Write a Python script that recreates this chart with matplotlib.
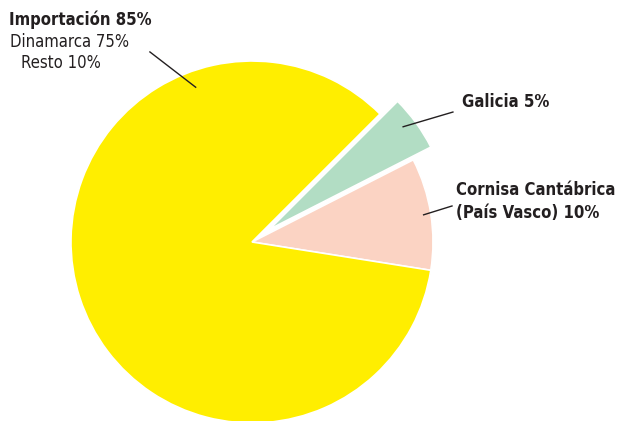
import numpy as np
import matplotlib
matplotlib.use("Agg")
import matplotlib.pyplot as plt

labels = ["Cornisa Cantábrica (País Vasco)", "Galicia", "Importación"]
values = [10, 5, 85]
colors = ["#FBD3C3", "#B2DDC4", "#FFEE00"]
explode = [0, 0.12, 0]
sub_labels = ["Dinamarca 75%", "Resto 10%"]

W, H = 617, 421
fig = plt.figure(figsize=(W / 100, H / 100), dpi=100)
ax = fig.add_axes([0, 0, 1, 1])
R = 181.0
cx, cy = 252, 242

start = -9
wedges, _ = ax.pie(values, colors=colors, explode=explode, startangle=start,
                   counterclock=True, radius=1.0,
                   wedgeprops=dict(edgecolor="white", linewidth=1.2))
ax.set_aspect("auto")
ax.set_xlim(-cx / R, (W - cx) / R)
ax.set_ylim(-(H - cy) / R, cy / R)
ax.axis("off")

tc = "#231F20"
font = dict(family="DejaVu Sans", fontstretch="condensed", color=tc)

def pt(w, r, angle_off=0):
    th = np.deg2rad((w.theta1 + w.theta2) / 2 + angle_off)
    c = w.center
    return c[0] + r * np.cos(th), c[1] + r * np.sin(th)

# Importación leader
w = wedges[2]
th = np.deg2rad(110)
p1 = (w.center[0] + 0.91 * np.cos(th), w.center[1] + 0.91 * np.sin(th))
ax.plot([p1[0], -0.564], [p1[1], 1.05], color=tc, lw=1.0)
# Galicia leader
p = pt(wedges[1], 0.93, 1.5)
ax.plot([p[0], 1.11], [p[1], 0.718], color=tc, lw=1.0)
# Cornisa leader
p = pt(wedges[0], 0.96)
ax.plot([p[0], 1.105], [p[1], 0.199], color=tc, lw=1.0)

def fx(px):
    return px / W
def fy(py):
    return 1 - py / H

fs_b = 12
fs_r = 12
fig.text(fx(9), fy(20), f"{labels[2]} {values[2]}%", fontsize=fs_b, fontweight="bold",
         va="center", ha="left", **font)
fig.text(fx(10), fy(42), sub_labels[0], fontsize=fs_r, va="center", ha="left", **font)
fig.text(fx(21), fy(63), sub_labels[1], fontsize=fs_r, va="center", ha="left", **font)

fig.text(fx(462), fy(102), f"{labels[1]} {values[1]}%", fontsize=fs_b, fontweight="bold",
         va="center", ha="left", **font)
fig.text(fx(456), fy(190), "Cornisa Cantábrica", fontsize=fs_b, fontweight="bold",
         va="center", ha="left", **font)
fig.text(fx(456), fy(213), f"(País Vasco) {values[0]}%", fontsize=fs_b, fontweight="bold",
         va="center", ha="left", **font)

fig.savefig("out.png", dpi=100, facecolor="white")
